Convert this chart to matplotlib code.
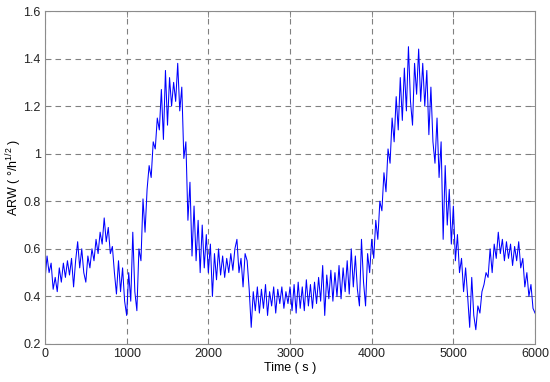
import matplotlib
matplotlib.use('Agg')
import matplotlib.pyplot as plt
import numpy as np

plt.rcParams['font.family'] = ['Liberation Sans', 'DejaVu Sans']
plt.rcParams['mathtext.fontset'] = 'custom'
plt.rcParams['mathtext.rm'] = 'Liberation Sans'
plt.rcParams['mathtext.it'] = 'Liberation Sans'
plt.rcParams['mathtext.default'] = 'regular'

# ARW samples, one every 25 s (0 .. 6000 s)
step = 25
arw = [
    0.47, 0.57, 0.50, 0.54, 0.43, 0.48, 0.42, 0.52, 0.46, 0.54, 0.48, 0.55, 0.49, 0.56, 0.44, 0.55, 0.63, 0.52, 0.60, 0.50,
    0.46, 0.57, 0.52, 0.60, 0.55, 0.64, 0.58, 0.67, 0.62, 0.73, 0.63, 0.69, 0.58, 0.61, 0.50, 0.41, 0.55, 0.42, 0.52, 0.38,
    0.32, 0.50, 0.38, 0.67, 0.42, 0.34, 0.60, 0.55, 0.81, 0.67, 0.85, 0.95, 0.90, 1.05, 1.02, 1.15, 1.10, 1.27, 1.06, 1.35,
    1.12, 1.32, 1.20, 1.30, 1.22, 1.38, 1.18, 1.28, 0.98, 1.05, 0.72, 0.88, 0.57, 0.78, 0.55, 0.72, 0.50, 0.70, 0.52, 0.66,
    0.50, 0.62, 0.40, 0.58, 0.47, 0.60, 0.49, 0.57, 0.48, 0.56, 0.50, 0.58, 0.51, 0.60, 0.64, 0.50, 0.56, 0.44, 0.58, 0.55,
    0.43, 0.27, 0.42, 0.34, 0.44, 0.33, 0.43, 0.35, 0.45, 0.32, 0.42, 0.36, 0.44, 0.33, 0.43, 0.37, 0.44, 0.35, 0.42, 0.37,
    0.44, 0.34, 0.45, 0.33, 0.46, 0.35, 0.44, 0.34, 0.47, 0.36, 0.45, 0.35, 0.46, 0.37, 0.48, 0.38, 0.53, 0.32, 0.49, 0.39,
    0.51, 0.38, 0.50, 0.40, 0.53, 0.39, 0.52, 0.42, 0.55, 0.41, 0.60, 0.44, 0.57, 0.43, 0.36, 0.64, 0.46, 0.36, 0.58, 0.50,
    0.64, 0.56, 0.72, 0.64, 0.80, 0.76, 0.92, 0.84, 1.02, 0.96, 1.15, 1.05, 1.24, 1.10, 1.32, 1.14, 1.36, 1.18, 1.45, 1.22,
    1.12, 1.38, 1.25, 1.44, 1.22, 1.38, 1.20, 1.35, 1.08, 1.28, 1.05, 0.96, 1.15, 0.90, 1.05, 0.64, 0.95, 0.70, 0.85, 0.62,
    0.78, 0.55, 0.66, 0.50, 0.56, 0.42, 0.52, 0.40, 0.27, 0.48, 0.32, 0.26, 0.36, 0.33, 0.42, 0.45, 0.50, 0.48, 0.60, 0.50,
    0.62, 0.56, 0.67, 0.58, 0.64, 0.55, 0.63, 0.56, 0.62, 0.53, 0.61, 0.55, 0.63, 0.52, 0.56, 0.44, 0.50, 0.40, 0.45, 0.35,
    0.33,
]
t = np.arange(len(arw)) * step

xticks = [0, 1000, 2000, 3000, 4000, 5000, 6000]
yticks = [0.2, 0.4, 0.6, 0.8, 1.0, 1.2, 1.4, 1.6]
ylabels = ['0.2', '0.4', '0.6', '0.8', '1', '1.2', '1.4', '1.6']

fig = plt.figure(figsize=(5.5, 3.82), dpi=100, facecolor='white')
ax = fig.add_axes([0.0818, 0.0995, 0.891, 0.8717])

ax.plot(t, arw, color='#0000ff', linewidth=0.75)

ax.set_xlim(0, 6000)
ax.set_ylim(0.2, 1.6)
ax.set_xticks(xticks)
ax.set_yticks(yticks)
ax.set_yticklabels(ylabels)

ax.grid(True, color='#808080', linestyle=(0, (5, 4)), linewidth=0.8)
ax.set_axisbelow(True)
for s in ax.spines.values():
    s.set_color('#8c8c8c')
    s.set_linewidth(0.8)
ax.tick_params(direction='in', length=4, width=0.6, color='#808080',
               labelsize=9, labelcolor='#222222', top=True, right=True, pad=3)

ax.set_xlabel('Time ( s )', fontsize=9, labelpad=1)
ax.set_ylabel('ARW ( °/h$^{1/2}$ )', fontsize=9)
ax.yaxis.set_label_coords(-0.043, 0.5)

fig.savefig('out.png', dpi=100)
